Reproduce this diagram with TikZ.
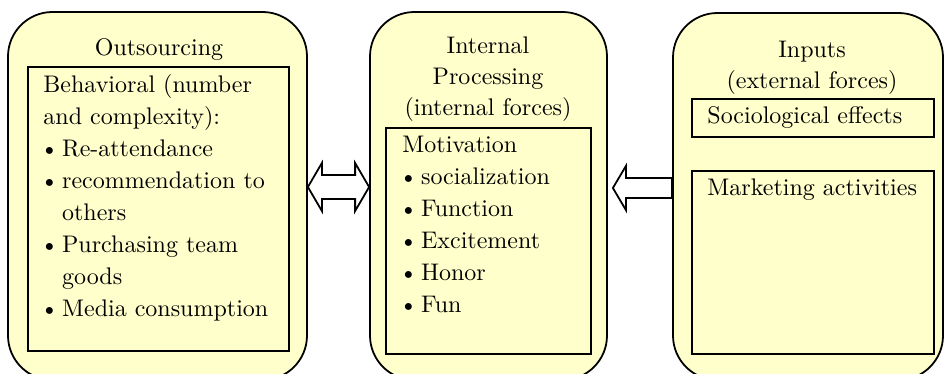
\documentclass[tikz,border=0pt]{standalone}
\usepackage{tikz}
\usetikzlibrary{positioning,fit,calc}
\definecolor{boxyellow}{RGB}{255,255,204}
\tikzset{
outer/.style={draw=black, line width=0.8pt, fill=boxyellow, rounded corners=20pt, inner sep=0pt},
inner/.style={draw=black, line width=1.1pt, fill=boxyellow, inner sep=0pt},
title/.style={font=\fontsize{10.8}{14}\selectfont, text width=110pt, align=center, inner sep=0pt, anchor=base},
body/.style={font=\fontsize{10.8}{14.4}\selectfont, text width=115pt, align=left, inner sep=0pt, anchor=base west},
blockarrow/.style={draw=black, line width=0.8pt, fill=white, line join=miter}
}
\newcommand{\bul}{\hspace{-1.5pt}\textbullet\hspace{1.5pt}}
\newcommand{\cont}{\phantom{\bul}}

\begin{document}
\begin{tikzpicture}[x=0.45pt, y=-0.45pt]
\useasboundingbox (0,0) rectangle (944,374);
\clip (0,0) rectangle (944,374);

% outer boxes
\node[outer, fit={(8,12) (307,380)}] (outL) {};
\node[outer, fit={(370,12) (607,380)}] (outM) {};
\node[outer, fit={(673,13) (943,380)}] (outR) {};

% inner boxes
\node[inner, fit={(28,67) (289,351)}] (inL) {};
\node[inner, fit={(386,128) (591,354)}] (inM) {};
\node[inner, fit={(692,99) (934,137)}] (inR1) {};
\node[inner, fit={(692,171) (934,354)}] (inR2) {};

% titles
\node[title] (tL) at (159,55) {Outsourcing};
\node[title] (tM) at (488,53) {Internal\\Processing\\(internal forces)};
\node[title] (tR) at (812,57) {Inputs\\(external forces)};

% contents
\node[body] (bL) at (43,92) {Behavioral (number\\and complexity):\\\bul Re-attendance\\\bul recommendation to\\\cont others\\\bul Purchasing team\\\cont goods\\\bul Media consumption};
\node[body] (bM) at (402,152) {Motivation\\\bul socialization\\\bul Function\\\bul Excitement\\\bul Honor\\\bul Fun};
\node[body] (bR1) at (707,123) {Sociological effects};
\node[body] (bR2) at (707,195) {Marketing activities};

% arrows
\coordinate (dl) at (outL.east |- 0,187);
\coordinate (dr) at (outM.west |- 0,187);
\draw[blockarrow] (dl) -- ++(14,-24) -- ++(0,12) -- ($(dr)+(-14,-12)$) -- ++(0,-12) -- (dr) -- ++(-14,24) -- ++(0,-12) -- ($(dl)+(14,12)$) -- ++(0,12) -- cycle;
\coordinate (st) at ($(outM.east |- 0,188)+(5,0)$);
\coordinate (sb) at (outR.west |- 0,188);
\draw[blockarrow] (st) -- ++(13,-22) -- ++(0,12) -- ($(sb)+(0,-10)$) -- ($(sb)+(0,10)$) -- ($(st)+(13,10)$) -- ++(0,12) -- cycle;
\end{tikzpicture}
\end{document}
